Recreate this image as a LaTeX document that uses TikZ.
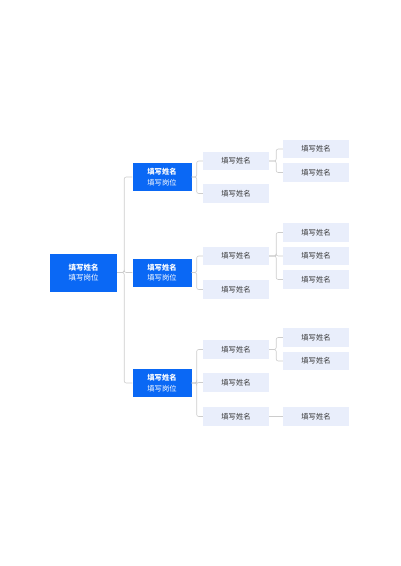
\documentclass[tikz,border=0pt]{standalone}
\usepackage{fontspec}
\usepackage{tikz}
\usetikzlibrary{positioning}
\newfontfamily\cjk{Noto Sans CJK SC}
\definecolor{boss}{HTML}{0A68F5}
\definecolor{staff}{HTML}{E9EEFB}
\definecolor{wire}{HTML}{CCCCCC}

\begin{document}
\begin{tikzpicture}[
      x=1pt, y=-1pt,
      nodes={inner sep=0pt, font=\cjk\fontsize{7.3}{10.3}\selectfont},
      head/.style={fill=boss, text=white, align=center,
        minimum width=59pt, minimum height=28pt},
      member/.style={fill=staff, text=black!80,
        minimum width=66pt, minimum height=18.5pt},
      link/.style={draw=wire, semithick, rounded corners=2pt}
      ]
  \useasboundingbox (0,0) rectangle (400,566);

  % Define nodes
  \node[head, minimum width=67pt, minimum height=38pt,
        font=\cjk\fontsize{7.5}{10.6}\selectfont] (r) at (83.5,272.5)
        {\textbf{填写姓名}\\填写岗位};
  \node[head] (p1) at (162,177)   {\textbf{填写姓名}\\填写岗位};
  \node[head] (p2) at (162,272.5) {\textbf{填写姓名}\\填写岗位};
  \node[head] (p3) at (162,383)   {\textbf{填写姓名}\\填写岗位};

  \node[member] (p1a) at (236,161)   {填写姓名};
  \node[member] (p1b) at (236,193.5) {填写姓名};
  \node[member] (p2a) at (236,256)   {填写姓名};
  \node[member] (p2b) at (236,289.5) {填写姓名};
  \node[member] (p3a) at (236,349.5) {填写姓名};
  \node[member] (p3b) at (236,382.5) {填写姓名};
  \node[member] (p3c) at (236,416.5) {填写姓名};

  \node[member] (p1a1) at (316,149)   {填写姓名};
  \node[member] (p1a2) at (316,172.5) {填写姓名};
  \node[member] (p2a1) at (316,232.5) {填写姓名};
  \node[member] (p2a2) at (316,256)   {填写姓名};
  \node[member] (p2a3) at (316,279.5) {填写姓名};
  \node[member] (p3a1) at (316,337.5) {填写姓名};
  \node[member] (p3a2) at (316,361)   {填写姓名};
  \node[member] (p3c1) at (316,416.5) {填写姓名};

  % Connect the nodes
  \foreach \c in {p1,p2,p3}
    \draw[link] (r.east) -- ++(7,0) |- (\c.west);
  \foreach \c in {p1a,p1b}
    \draw[link] (p1.east) -- ++(5,0) |- (\c.west);
  \foreach \c in {p2a,p2b}
    \draw[link] (p2.east) -- ++(5,0) |- (\c.west);
  \foreach \c in {p3a,p3b,p3c}
    \draw[link] (p3.east) -- ++(5,0) |- (\c.west);
  \foreach \c in {p1a1,p1a2}
    \draw[link] (p1a.east) -- ++(7,0) |- (\c.west);
  \foreach \c in {p2a1,p2a2,p2a3}
    \draw[link] (p2a.east) -- ++(7,0) |- (\c.west);
  \foreach \c in {p3a1,p3a2}
    \draw[link] (p3a.east) -- ++(7,0) |- (\c.west);
  \draw[link] (p3c.east) -- (p3c1.west);

\end{tikzpicture}
\end{document}
